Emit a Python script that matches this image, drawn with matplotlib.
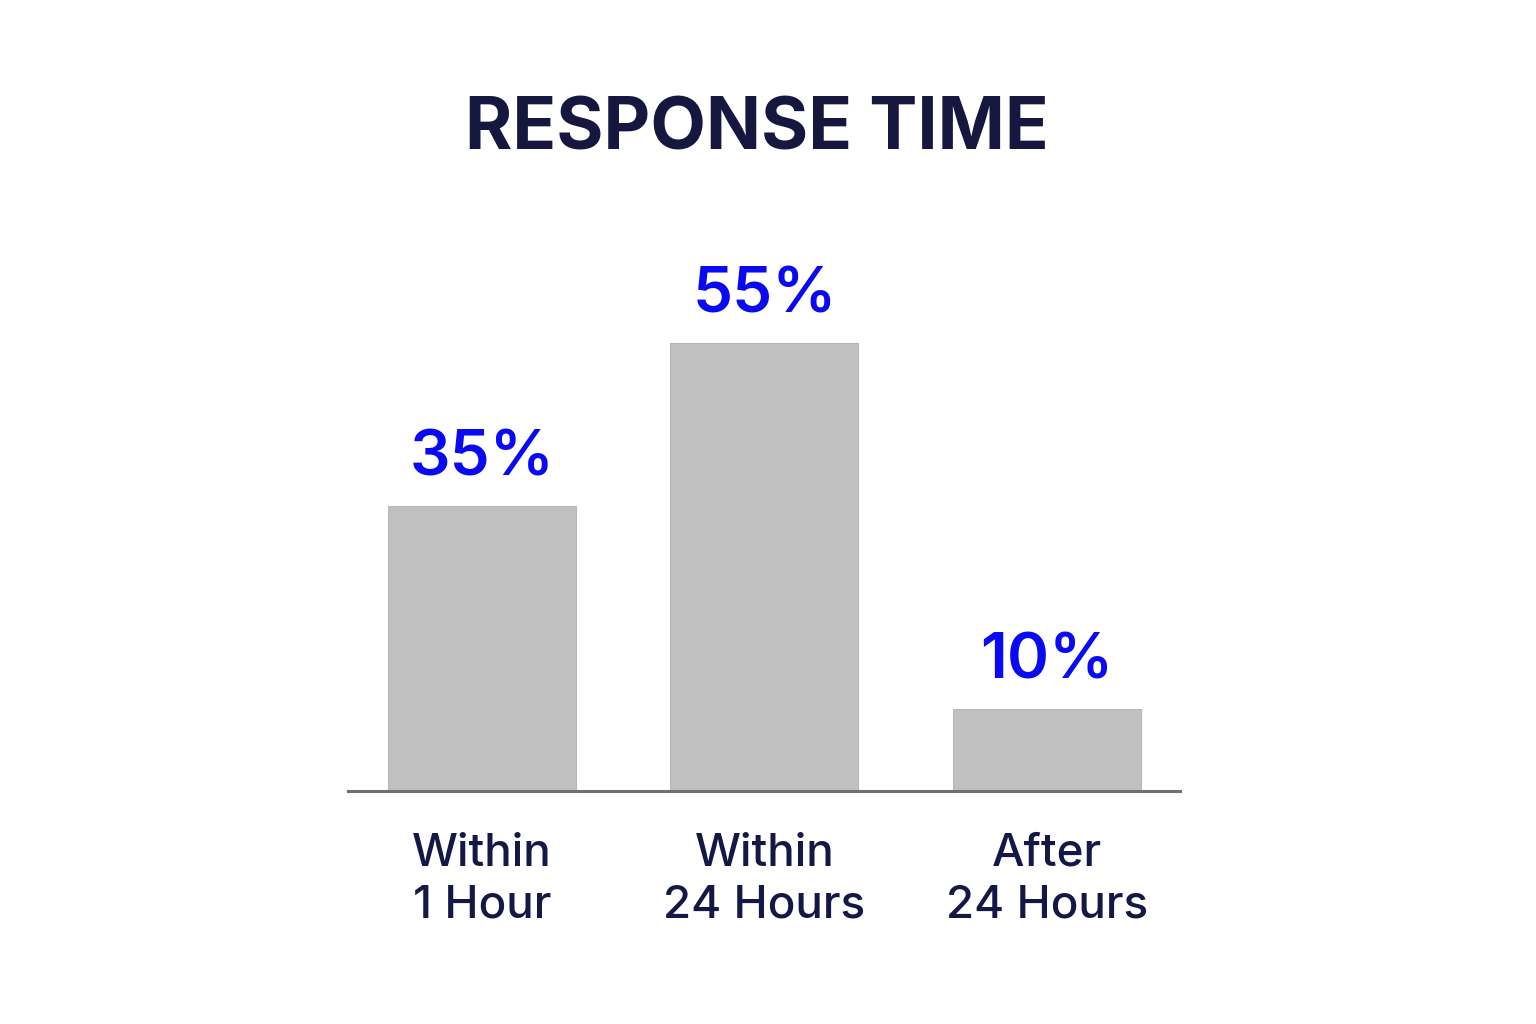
import matplotlib
matplotlib.use("Agg")
import matplotlib.pyplot as plt

plt.rcParams["font.family"] = ["Inter", "DejaVu Sans"]

categories = ["Within\n1 Hour", "Within\n24 Hours", "After\n24 Hours"]
shares = [35, 55, 10]
value_labels = ["35%", "55%", "10%"]

TITLE_COLOR = "#15173f"
LABEL_COLOR = "#141846"
VALUE_COLOR = "#0a0af2"
BAR_COLOR = "#c0c0c0"

W, H = 1536, 1024
fig = plt.figure(figsize=(W / 100, H / 100), dpi=100)

# axes placed in pixel terms: baseline at y=791, spans x 348..1180
left, right = 348, 1180
base, top = 791, 200
ax = fig.add_axes([left / W, 1 - base / H, (right - left) / W, (base - top) / H])

x = list(range(len(shares)))
bars = ax.bar(x, shares, width=0.665, color=BAR_COLOR, edgecolor="#b8b8b8",
              linewidth=0.8, zorder=2)
ax.set_xlim(-0.474, 2.471)
ax.set_ylim(0, 72.5)

for bar, text in zip(bars, value_labels):
    ax.annotate(text, (bar.get_x() + bar.get_width() / 2, bar.get_height()),
                xytext=(0, 22), textcoords="offset points",
                ha="center", va="baseline", fontsize=46, fontweight="semibold",
                color=VALUE_COLOR)

for side in ["left", "right", "top"]:
    ax.spines[side].set_visible(False)
ax.spines["bottom"].set_color("#707070")
ax.spines["bottom"].set_linewidth(2.2)
ax.set_yticks([])
ax.set_xticks(x)
ax.set_xticklabels(categories, fontsize=33, fontweight="medium",
                   color=LABEL_COLOR, linespacing=1.3)
ax.tick_params(axis="x", length=0, pad=30)

fig.text(0.493, 1 - 150 / H, "RESPONSE TIME", ha="center", va="baseline",
         fontsize=52, fontweight="bold", color=TITLE_COLOR)

fig.savefig("out.png", dpi=100, facecolor="white")
